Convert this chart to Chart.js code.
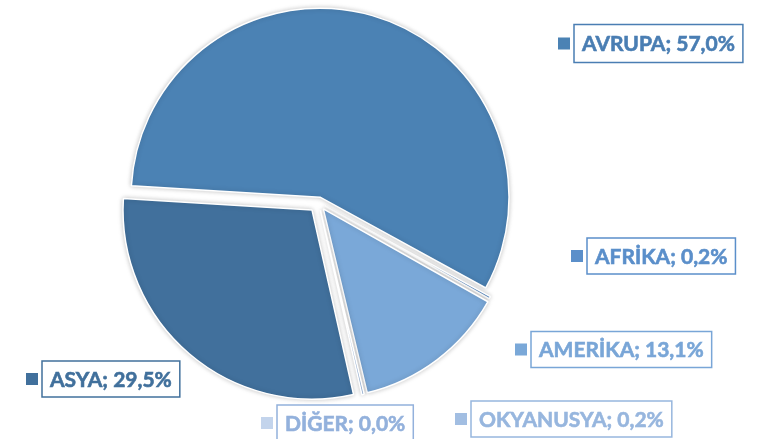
<!DOCTYPE html>
<html lang="tr">
  <head>
    <meta charset="UTF-8" />
    <title>Kıtalar</title>
    <style>
      html, body { margin: 0; padding: 0; background: #fff; }
      #wrap { width: 763px; height: 439px; }
    </style>
  </head>
  <body>
    <div id="wrap">
      <canvas id="myChart" width="763" height="439"></canvas>
    </div>
    <script src="https://cdn.jsdelivr.net/npm/chart.js"></script>
    <script>
        const regions = ["AVRUPA", "AFRİKA", "AMERİKA", "OKYANUSYA", "DİĞER", "ASYA"];
        const shares = [57.0, 0.2, 13.1, 0.2, 0.0, 29.5];

        const sliceColors = ["#4b82b4", "#5b8fca", "#7aa8d8", "#a2bee2", "#c3d4ec", "#41709c"];
        const textColors = ["#4a7eb3", "#5b8fca", "#79a6d7", "#97b6de", "#93b1dc", "#41709c"];
        // how far each slice is pulled out, px
        const explode = [5.5, 7, 8, 8, 8, 10];
        // box left edge and vertical centre of each label
        const labelPos = [[574, 43.5], [587, 256], [531, 349.5], [471, 419], [277, 423], [42, 379]];

        const fmt = v => v.toFixed(1).replace(".", ",") + "%";

        const explodePlugin = {
            id: 'explode',
            afterDatasetUpdate(chart, args) {
                args.meta.data.forEach((arc, i) => {
                    if (arc._exploded) return;
                    arc._exploded = true;
                    const baseDraw = arc.draw;
                    arc.draw = function (ctx, area) {
                        const mid = (this.startAngle + this.endAngle) / 2;
                        const d = explode[i] || 0;
                        ctx.save();
                        ctx.translate(Math.cos(mid) * d, Math.sin(mid) * d);
                        ctx.shadowColor = "rgba(0,0,0,0.22)";
                        ctx.shadowBlur = 5;
                        baseDraw.call(this, ctx, area);
                        ctx.restore();
                    };
                });
            }
        };

        const boxLabels = {
            id: 'boxLabels',
            afterDraw(chart) {
                const ctx = chart.ctx;
                ctx.save();
                ctx.font = "bold 21px Lato, 'Open Sans', sans-serif";
                ctx.textBaseline = "middle";
                regions.forEach((name, i) => {
                    const text = name + "; " + fmt(shares[i]);
                    const [x, cy] = labelPos[i];
                    const w = ctx.measureText(text).width + 16;
                    const h = i === 0 ? 38 : 36;
                    ctx.fillStyle = "#fff";
                    ctx.fillRect(x, cy - h / 2, w, h);
                    ctx.strokeStyle = textColors[i];
                    ctx.lineWidth = 1.5;
                    ctx.strokeRect(x, cy - h / 2, w, h);
                    ctx.fillStyle = textColors[i];
                    ctx.fillText(text, x + 8, cy + 1);
                    // a touch heavier, closer to the original bold face
                    ctx.lineWidth = 0.6;
                    ctx.strokeText(text, x + 8, cy + 1);
                    ctx.fillStyle = sliceColors[i];
                    ctx.fillRect(x - 16, cy - 6, 12, 12);
                });
                ctx.restore();
            }
        };

        const config = {
            type: "pie",
            data: {
                labels: regions,
                datasets: [{
                    data: shares,
                    backgroundColor: sliceColors,
                    borderColor: "#ffffff",
                    borderWidth: 1.5
                }]
            },
            plugins: [explodePlugin, boxLabels],
            options: {
                responsive: false,
                animation: false,
                rotation: -86.5,
                radius: 189,
                layout: {
                    padding: { left: 0, right: 126, top: 0, bottom: 34 }
                },
                plugins: {
                    legend: { display: false },
                    tooltip: { enabled: false }
                }
            }
        };

        const myChart = new Chart(document.getElementById("myChart"), config);
    </script>
  </body>
</html>
